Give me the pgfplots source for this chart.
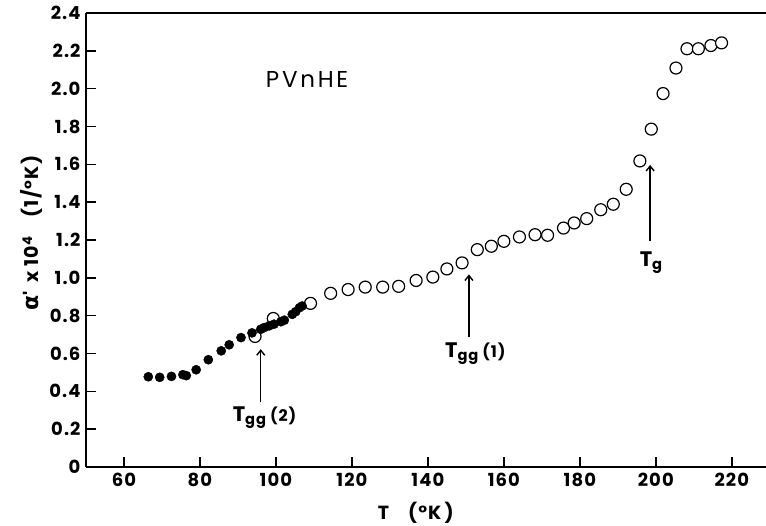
\documentclass[border=0pt]{standalone}
\usepackage{pgfplots}
\pgfplotsset{compat=1.18}
\usepackage{fontspec}
\setmainfont{Poppins}[LetterSpace=6]
\newfontfamily\grk{DejaVu Sans}
\usetikzlibrary{arrows.meta}
\pgfplotstableread{
x y
94.5 0.69
99.3 0.785
109.1 0.865
114.4 0.918
119.0 0.938
123.5 0.951
128.1 0.951
132.3 0.955
136.9 0.986
141.3 1.004
145.0 1.047
149.0 1.079
153.0 1.149
156.7 1.167
160.0 1.193
164.1 1.216
168.2 1.228
171.5 1.225
175.7 1.263
178.5 1.29
181.8 1.313
185.5 1.36
188.8 1.389
192.2 1.468
195.8 1.618
198.8 1.786
201.9 1.974
205.3 2.109
208.2 2.211
211.2 2.211
214.5 2.228
217.3 2.242
}\opendata
\pgfplotstableread{
x y
66.4 0.477
69.4 0.474
72.5 0.479
75.5 0.488
76.4 0.483
79.0 0.514
82.2 0.567
85.6 0.614
87.7 0.646
90.8 0.684
93.7 0.709
96.0 0.728
96.9 0.737
98.2 0.746
99.5 0.755
101.3 0.768
102.2 0.776
104.3 0.807
105.2 0.821
106.2 0.842
106.9 0.851
}\filleddata
\begin{document}
\begin{tikzpicture}
\begin{axis}[
  scale only axis,
  width=680pt, height=454pt,
  xmin=50, xmax=229, ymin=0, ymax=2.4,
  axis x line*=bottom, axis y line*=left,
  axis line style={line width=1.4pt},
  xtick={60,80,...,220}, ytick={0,0.2,...,2.41},
  yticklabel={\ifdim\tick pt=0pt 0\else\pgfmathprintnumber[fixed,fixed zerofill,precision=1]{\tick}\fi},
  /pgf/number format/assume math mode=true,
  tick align=inside, major tick length=10pt,
  tick style={line width=1.4pt, black},
  ticklabel style={font=\bfseries\fontsize{18}{20}\selectfont},
  yticklabel style={xshift=-2pt},
  xticklabel style={yshift=-3pt},
  xtick pos=bottom, ytick pos=left,
  xlabel={T\quad(°K\,)},
  ylabel={{\grk\bfseries\fontsize{22}{24}\selectfont α}\textquotesingle\;\,x 10\textsuperscript{4}\quad(1/°K)},
  label style={font=\bfseries\fontsize{19}{22}\selectfont},
  xlabel style={at={(axis description cs:0.485,0)}, anchor=north, yshift=-32pt},
  ylabel style={at={(axis description cs:0,0.515)}, anchor=south, yshift=40pt},
  clip=false,
]
\draw[line width=1.4pt] (rel axis cs:0,1) -- (rel axis cs:1,1);
\addplot[only marks, mark=*, mark size=6pt, mark options={fill=white, draw=black, line width=1.2pt}] table {\opendata};
\addplot[only marks, mark=*, mark size=4.6pt, mark options={fill=black, draw=black}] table {\filleddata};
\draw[line width=1.4pt, -{Straight Barb[length=5pt,width=8pt]}] (axis cs:96,0.342) -- (axis cs:96,0.623);
\draw[line width=1.4pt, -{Straight Barb[length=5pt,width=8pt]}] (axis cs:150.8,0.688) -- (axis cs:150.8,1.018);
\draw[line width=1.4pt, -{Straight Barb[length=5pt,width=8pt]}] (axis cs:198.5,1.193) -- (axis cs:198.5,1.597);
\node[font=\bfseries\fontsize{21}{24}\selectfont] at (axis cs:97,0.26) {T\textsubscript{gg}\,{\fontsize{16}{18}\selectfont(2)}};
\node[font=\bfseries\fontsize{21}{24}\selectfont] at (axis cs:152.5,0.60) {T\textsubscript{gg}\,{\fontsize{16}{18}\selectfont(1)}};
\node[font=\bfseries\fontsize{21}{24}\selectfont] at (axis cs:198.8,1.08) {T\textsubscript{g}};
\node[font=\fontsize{23}{26}\selectfont\addfontfeatures{LetterSpace=12}] at (axis cs:108.2,2.05) {PVnHE};
\coordinate (sw) at (rel axis cs:0,0);
\coordinate (ne) at (rel axis cs:1,1);
\end{axis}
\pgfresetboundingbox
\path[use as bounding box] (sw) ++(-86pt,-59pt) rectangle ([shift={(0pt,13pt)}]ne);
\end{tikzpicture}
\end{document}
